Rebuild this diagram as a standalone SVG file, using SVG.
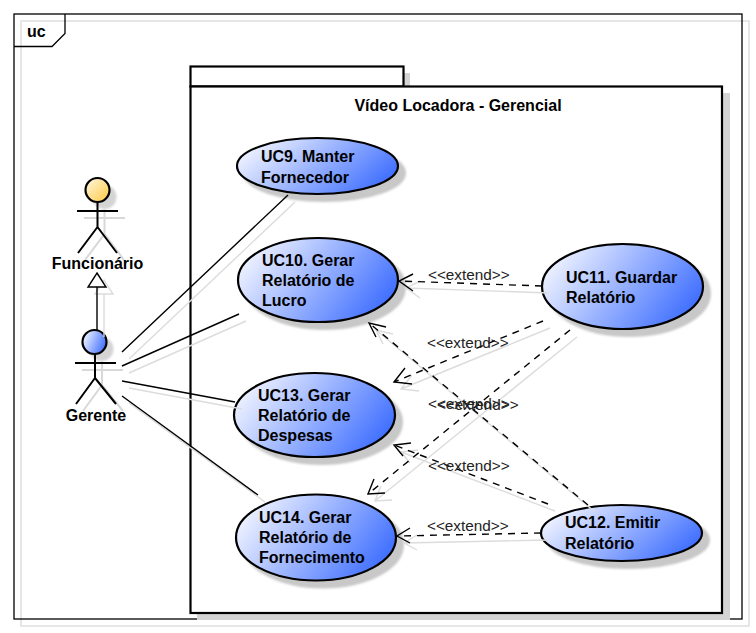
<svg xmlns="http://www.w3.org/2000/svg" width="756" height="633" viewBox="0 0 756 633">
<style>
text{font-family:"Liberation Sans",Arial,sans-serif;font-size:16px;font-weight:bold;fill:#000}
.lbl{font-size:15.300px;font-weight:normal;fill:#222}
.mid{text-anchor:middle}
.uc{fill:url(#blue);stroke:#000;stroke-width:2.200}
.sh{fill:#c8c8c8;stroke:#c8c8c8;stroke-width:2;filter:url(#soft)}
.actor{fill:none;stroke:#000;stroke-width:2}
.ashadow{fill:none;stroke:#d8d8d8;stroke-width:2}
.as{fill:none;stroke:#000;stroke-width:1.400}
.ss{fill:none;stroke:#dcdcdc;stroke-width:1.400}
.dash{stroke-dasharray:7 6}
.pk{fill:#fff;stroke:#000;stroke-width:2.200}
</style>
<defs>
<linearGradient id="blue" x1="0" y1="0.3" x2="1" y2="0.7">
<stop offset="0" stop-color="#f2f5ff"/><stop offset="1" stop-color="#3a6bff"/>
</linearGradient>
<linearGradient id="yellow" x1="0" y1="0" x2="1" y2="1">
<stop offset="0" stop-color="#fff8e4"/><stop offset="1" stop-color="#ffc840"/>
</linearGradient>
<filter id="soft" x="-10%" y="-10%" width="120%" height="120%"><feGaussianBlur stdDeviation="0.800"/></filter>
</defs>
<rect width="756" height="633" fill="#fff"/>
<g id="frame">
<rect x="21" y="21" width="728" height="605" fill="none" stroke="#dcdcdc" stroke-width="1.400"/>
<rect x="14" y="14" width="728" height="605" fill="none" stroke="#000" stroke-width="1.300"/>
<path d="M14 46.500H52L65 33.500V14" fill="none" stroke="#000" stroke-width="1.300"/>
<text x="27" y="37">uc</text>
</g>
<g id="package">
<rect x="197" y="93" width="533" height="527" fill="#d4d4d4"/>
<rect x="404" y="73" width="6" height="13" fill="#d4d4d4"/>
<rect class="pk" x="190.500" y="66.500" width="213" height="20"/>
<rect class="pk" x="190.500" y="86.500" width="531.500" height="526.500"/>
<text class="mid" x="458" y="111">Vídeo Locadora - Gerencial</text>
</g>
<g id="actor-funcionario">
<circle cx="104.500" cy="197" r="12" fill="#d4d4d4" filter="url(#soft)"/>
<path class="ashadow" d="M104.500 209V234M84 218H125M104.500 234L85 260M104.500 234L124 260"/>
<circle cx="97.500" cy="190" r="12" fill="url(#yellow)" stroke="#000" stroke-width="2.200"/>
<path class="actor" d="M97.500 202V227M77 211H118M97.500 227L78 253M97.500 227L117 253"/>
<text class="mid" x="97.500" y="269">Funcionário</text>
</g>
<g id="actor-gerente">
<circle cx="101.500" cy="349" r="12" fill="#d4d4d4" filter="url(#soft)"/>
<path class="ashadow" d="M102 361V385M82 370H123M102 385L83 411M102 385L123 411"/>
<circle cx="94.500" cy="342" r="12" fill="url(#blue)" stroke="#000" stroke-width="2.200"/>
<path class="actor" d="M95 354V378M75 363H116M95 378L76 404M95 378L116 404"/>
<text class="mid" x="96" y="421">Gerente</text>
</g>
<g id="uc9"><ellipse class="sh" cx="324.500" cy="173" rx="80.500" ry="28"/><ellipse class="uc" cx="317.500" cy="166" rx="80.500" ry="28"/><text x="261" y="162">UC9. Manter</text><text x="261" y="183">Fornecedor</text></g>
<g id="uc10"><ellipse class="sh" cx="325" cy="287" rx="80" ry="42"/><ellipse class="uc" cx="318" cy="280" rx="80" ry="42"/><text x="262" y="266">UC10. Gerar</text><text x="262" y="286">Relatório de</text><text x="262" y="306">Lucro</text></g>
<g id="uc11"><ellipse class="sh" cx="629.500" cy="293.500" rx="80.500" ry="42.500"/><ellipse class="uc" cx="622.500" cy="286.500" rx="80.500" ry="42.500"/><text x="566" y="283">UC11. Guardar</text><text x="566" y="303">Relatório</text></g>
<g id="uc13"><ellipse class="sh" cx="321.500" cy="422" rx="80.500" ry="42"/><ellipse class="uc" cx="314.500" cy="415" rx="80.500" ry="42"/><text x="258" y="401">UC13. Gerar</text><text x="258" y="421">Relatório de</text><text x="258" y="441">Despesas</text></g>
<g id="uc14"><ellipse class="sh" cx="323" cy="544.500" rx="80" ry="43"/><ellipse class="uc" cx="316" cy="537.500" rx="80" ry="43"/><text x="259" y="523">UC14. Gerar</text><text x="259" y="543">Relatório de</text><text x="259" y="563">Fornecimento</text></g>
<g id="uc12"><ellipse class="sh" cx="628.500" cy="540" rx="80.500" ry="28"/><ellipse class="uc" cx="621.500" cy="533" rx="80.500" ry="28"/><text x="565" y="528">UC12. Emitir</text><text x="565" y="549">Relatório</text></g>
<g id="connectors">
<g id="connector-shadows" class="ss">
<path d="M104 294V337M95 294H113L104 280Z"/>
<path d="M129 359L295 202M129 373L246 321M129 388L242 409M129 403L265 502"/>
<path d="M549 293L406 288M420 281L406 288L420 298"/>
<path d="M550 328L401 389M412 375L401 389L419 391"/>
<path d="M577 337L375 501M381 486L375 501L392 500"/>
<path d="M595 512L376 330M393 334L376 330L383 344"/>
<path d="M555 511L401 452M418 450L401 452L410 463"/>
<path d="M548 540L404 543M417 535L404 543L417 550"/>
</g>
<path d="M97 330V287" class="as"/>
<path d="M97 273L106 287H88Z" fill="#fff" stroke="#000" stroke-width="1.400"/>
<path class="as" d="M122 352L288 195M122 366L239 314M122 381L235 402M122 396L258 495"/>
<path class="as dash" d="M542 286L399 281"/><path class="as" d="M413 274L399 281L413 291"/>
<path class="as dash" d="M543 321L394 382"/><path class="as" d="M405 368L394 382L412 384"/>
<path class="as dash" d="M570 330L368 494"/><path class="as" d="M374 479L368 494L385 493"/>
<path class="as dash" d="M588 505L369 323"/><path class="as" d="M386 327L369 323L376 337"/>
<path class="as dash" d="M548 504L394 445"/><path class="as" d="M411 443L394 445L403 456"/>
<path class="as dash" d="M541 533L397 536"/><path class="as" d="M410 528L397 536L410 543"/>
<text class="lbl" x="428" y="280">&lt;&lt;extend&gt;&gt;</text>
<text class="lbl" x="427" y="348">&lt;&lt;extend&gt;&gt;</text>
<text class="lbl" x="428" y="409">&lt;&lt;extend&gt;&gt;</text>
<text class="lbl" x="437" y="410">&lt;&lt;extend&gt;&gt;</text>
<text class="lbl" x="428" y="471">&lt;&lt;extend&gt;&gt;</text>
<text class="lbl" x="427" y="531">&lt;&lt;extend&gt;&gt;</text>
</g>
</svg>
